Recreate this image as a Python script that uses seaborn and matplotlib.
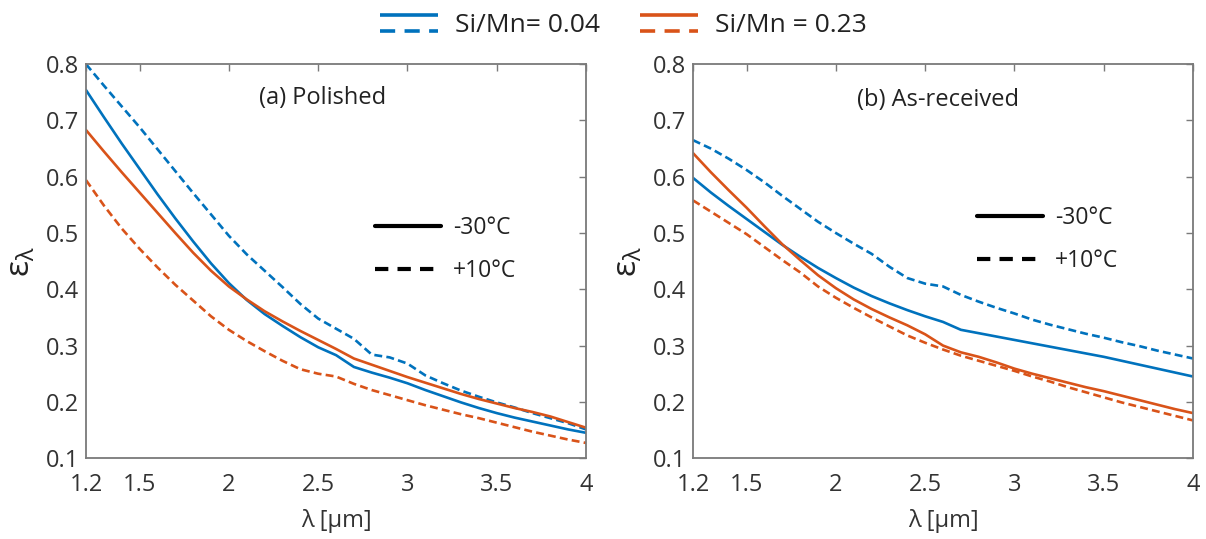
import numpy as np
import pandas as pd
import seaborn as sns
import matplotlib
matplotlib.use("Agg")
import matplotlib.pyplot as plt
from matplotlib.lines import Line2D
from matplotlib.legend_handler import HandlerBase

# ---------------- data ----------------
LAM = [1.2, 1.3, 1.4, 1.5, 1.6, 1.7, 1.8, 1.9, 2.0, 2.1, 2.2, 2.3, 2.4, 2.5, 2.6,
       2.7, 2.8, 2.9, 3.0, 3.1, 3.2, 3.3, 3.4, 3.5, 3.6, 3.7, 3.8, 3.9, 4.0]

# (a) Polished
pol_004_m30 = [0.754, 0.706, 0.659, 0.614, 0.569, 0.526, 0.485, 0.446, 0.411, 0.381,
               0.356, 0.335, 0.315, 0.297, 0.283, 0.262, 0.252, 0.243, 0.233, 0.221,
               0.210, 0.199, 0.189, 0.180, 0.172, 0.165, 0.158, 0.151, 0.145]
pol_004_p10 = [0.800, 0.762, 0.725, 0.688, 0.649, 0.610, 0.571, 0.533, 0.495, 0.462,
               0.433, 0.404, 0.374, 0.348, 0.330, 0.312, 0.284, 0.279, 0.268, 0.247,
               0.233, 0.220, 0.209, 0.199, 0.190, 0.180, 0.171, 0.162, 0.151]
pol_023_m30 = [0.683, 0.645, 0.608, 0.572, 0.536, 0.500, 0.465, 0.433, 0.405, 0.382,
               0.361, 0.343, 0.326, 0.310, 0.294, 0.277, 0.266, 0.255, 0.244, 0.234,
               0.224, 0.214, 0.205, 0.197, 0.189, 0.182, 0.174, 0.164, 0.154]
pol_023_p10 = [0.594, 0.549, 0.508, 0.472, 0.439, 0.408, 0.380, 0.352, 0.328, 0.308,
               0.290, 0.273, 0.258, 0.250, 0.245, 0.232, 0.221, 0.212, 0.203, 0.194,
               0.186, 0.178, 0.171, 0.163, 0.155, 0.147, 0.140, 0.133, 0.127]

# (b) As-received
ar_004_m30 = [0.598, 0.572, 0.548, 0.525, 0.502, 0.479, 0.458, 0.438, 0.420, 0.403,
              0.388, 0.375, 0.363, 0.352, 0.342, 0.328, 0.322, 0.316, 0.310, 0.304,
              0.298, 0.292, 0.286, 0.280, 0.273, 0.266, 0.259, 0.252, 0.245]
ar_004_p10 = [0.665, 0.650, 0.632, 0.612, 0.590, 0.566, 0.543, 0.520, 0.500, 0.481,
              0.463, 0.440, 0.420, 0.410, 0.405, 0.390, 0.378, 0.367, 0.357, 0.346,
              0.337, 0.329, 0.321, 0.314, 0.306, 0.299, 0.291, 0.284, 0.277]
ar_023_m30 = [0.642, 0.608, 0.576, 0.545, 0.512, 0.480, 0.452, 0.425, 0.402, 0.382,
              0.365, 0.350, 0.336, 0.320, 0.300, 0.288, 0.280, 0.270, 0.259, 0.250,
              0.242, 0.234, 0.226, 0.219, 0.211, 0.203, 0.195, 0.187, 0.180]
ar_023_p10 = [0.558, 0.538, 0.518, 0.498, 0.475, 0.452, 0.430, 0.405, 0.385, 0.367,
              0.350, 0.334, 0.318, 0.305, 0.293, 0.282, 0.273, 0.264, 0.255, 0.245,
              0.236, 0.226, 0.217, 0.208, 0.199, 0.191, 0.183, 0.175, 0.167]

RATIOS = ["0.04", "0.23"]
TEMPS = ["-30°C", "+10°C"]
RATIO_LABELS = ["Si/Mn= 0.04", "Si/Mn = 0.23"]
PANEL_TITLES = ["(a) Polished", "(b) As-received"]
XTICKS = [1.2, 1.5, 2, 2.5, 3, 3.5, 4]
XTICKLABELS = ["1.2", "1.5", "2", "2.5", "3", "3.5", "4"]
YTICKS = [0.1, 0.2, 0.3, 0.4, 0.5, 0.6, 0.7, 0.8]

panels = {
    PANEL_TITLES[0]: {("0.04", "-30°C"): pol_004_m30, ("0.04", "+10°C"): pol_004_p10,
                      ("0.23", "-30°C"): pol_023_m30, ("0.23", "+10°C"): pol_023_p10},
    PANEL_TITLES[1]: {("0.04", "-30°C"): ar_004_m30, ("0.04", "+10°C"): ar_004_p10,
                      ("0.23", "-30°C"): ar_023_m30, ("0.23", "+10°C"): ar_023_p10},
}

# ---------------- style ----------------
sns.set_theme(style="white")
plt.rcParams["font.family"] = ["Open Sans", "DejaVu Sans"]
plt.rcParams["mathtext.fontset"] = "custom"
plt.rcParams["mathtext.rm"] = "Open Sans"
plt.rcParams["mathtext.it"] = "Open Sans"

BLUE = "#0072BD"
ORANGE = "#D95319"
SPINE = "#7a7a7a"
TXT = "#333333"
palette = {"0.04": BLUE, "0.23": ORANGE}
dashes = {"-30°C": "", "+10°C": (3, 1.6)}

fig = plt.figure(figsize=(12.06, 5.39), dpi=100)
axes = [fig.add_axes([0.0713, 0.150, 0.4147, 0.731]),
        fig.add_axes([0.5746, 0.150, 0.4147, 0.731])]

legend_pos = [(0.555, 0.530), (0.545, 0.555)]
title_pos = [(0.346, 0.915), (0.328, 0.910)]

for ax, title, lpos, tpos in zip(axes, PANEL_TITLES, legend_pos, title_pos):
    rows = []
    for (r, t), vals in panels[title].items():
        for x, y in zip(LAM, vals):
            rows.append({"lam": x, "eps": y, "ratio": r, "temp": t})
    df = pd.DataFrame(rows)
    sns.lineplot(data=df, x="lam", y="eps", hue="ratio", style="temp",
                 palette=palette, dashes=dashes, hue_order=RATIOS,
                 style_order=TEMPS, linewidth=1.9, ax=ax, legend=False,
                 estimator=None, sort=True)
    ax.set_xlim(1.2, 4)
    ax.set_ylim(0.1, 0.8)
    ax.set_xticks(XTICKS)
    ax.set_xticklabels(XTICKLABELS)
    ax.set_yticks(YTICKS)
    ax.set_yticklabels([f"{v:.1f}" for v in YTICKS])
    ax.tick_params(direction="in", length=5, width=1, color=SPINE,
                   top=True, right=True, labelsize=17, labelcolor=TXT)
    ax.tick_params(axis="x", pad=11)
    ax.tick_params(axis="y", pad=5)
    for s in ax.spines.values():
        s.set_visible(True)
        s.set_color(SPINE)
        s.set_linewidth(1.3)
    ax.set_xlabel("λ [μm]", fontsize=17, color=TXT, labelpad=8)
    ax.set_ylabel(r"$\mathrm{ε}_{\mathrm{λ}}$", fontsize=24, color="#222222", labelpad=6)
    ax.text(tpos[0], tpos[1], title, transform=ax.transAxes, fontsize=17,
            color="#222222", ha="left", va="center")
    handles = [Line2D([], [], color="black", lw=3.0, linestyle="-"),
               Line2D([], [], color="black", lw=3.0, dashes=(3.2, 2.2))]
    ax.legend(handles, TEMPS, loc="center left", bbox_to_anchor=lpos,
              frameon=False, fontsize=16.5, handlelength=2.9, handletextpad=0.5,
              labelspacing=0.85, borderpad=0, labelcolor="#222222")


class DoubleLineHandler(HandlerBase):
    def __init__(self, color):
        super().__init__()
        self.color = color

    def create_artists(self, legend, orig_handle, xdescent, ydescent, width,
                       height, fontsize, trans):
        yc = height / 2 - ydescent
        off = 0.30 * fontsize
        l1 = Line2D([-xdescent, width - xdescent], [yc + off, yc + off],
                    color=self.color, lw=2.6, solid_capstyle="butt")
        l2 = Line2D([-xdescent, width - xdescent], [yc - off, yc - off],
                    color=self.color, lw=2.6, dashes=(4.2, 2.6), dash_capstyle="butt")
        l1.set_transform(trans)
        l2.set_transform(trans)
        return [l1, l2]


h_blue = Line2D([], [], color=BLUE)
h_orange = Line2D([], [], color=ORANGE)
fig.legend([h_blue, h_orange], RATIO_LABELS, loc="center",
           bbox_to_anchor=(0.517, 0.953), ncol=2, frameon=False, fontsize=19,
           handlelength=2.2, handletextpad=0.65, columnspacing=1.5,
           labelcolor="#222222",
           handler_map={h_blue: DoubleLineHandler(BLUE),
                        h_orange: DoubleLineHandler(ORANGE)})

fig.savefig("out.png", dpi=100, facecolor="white")
